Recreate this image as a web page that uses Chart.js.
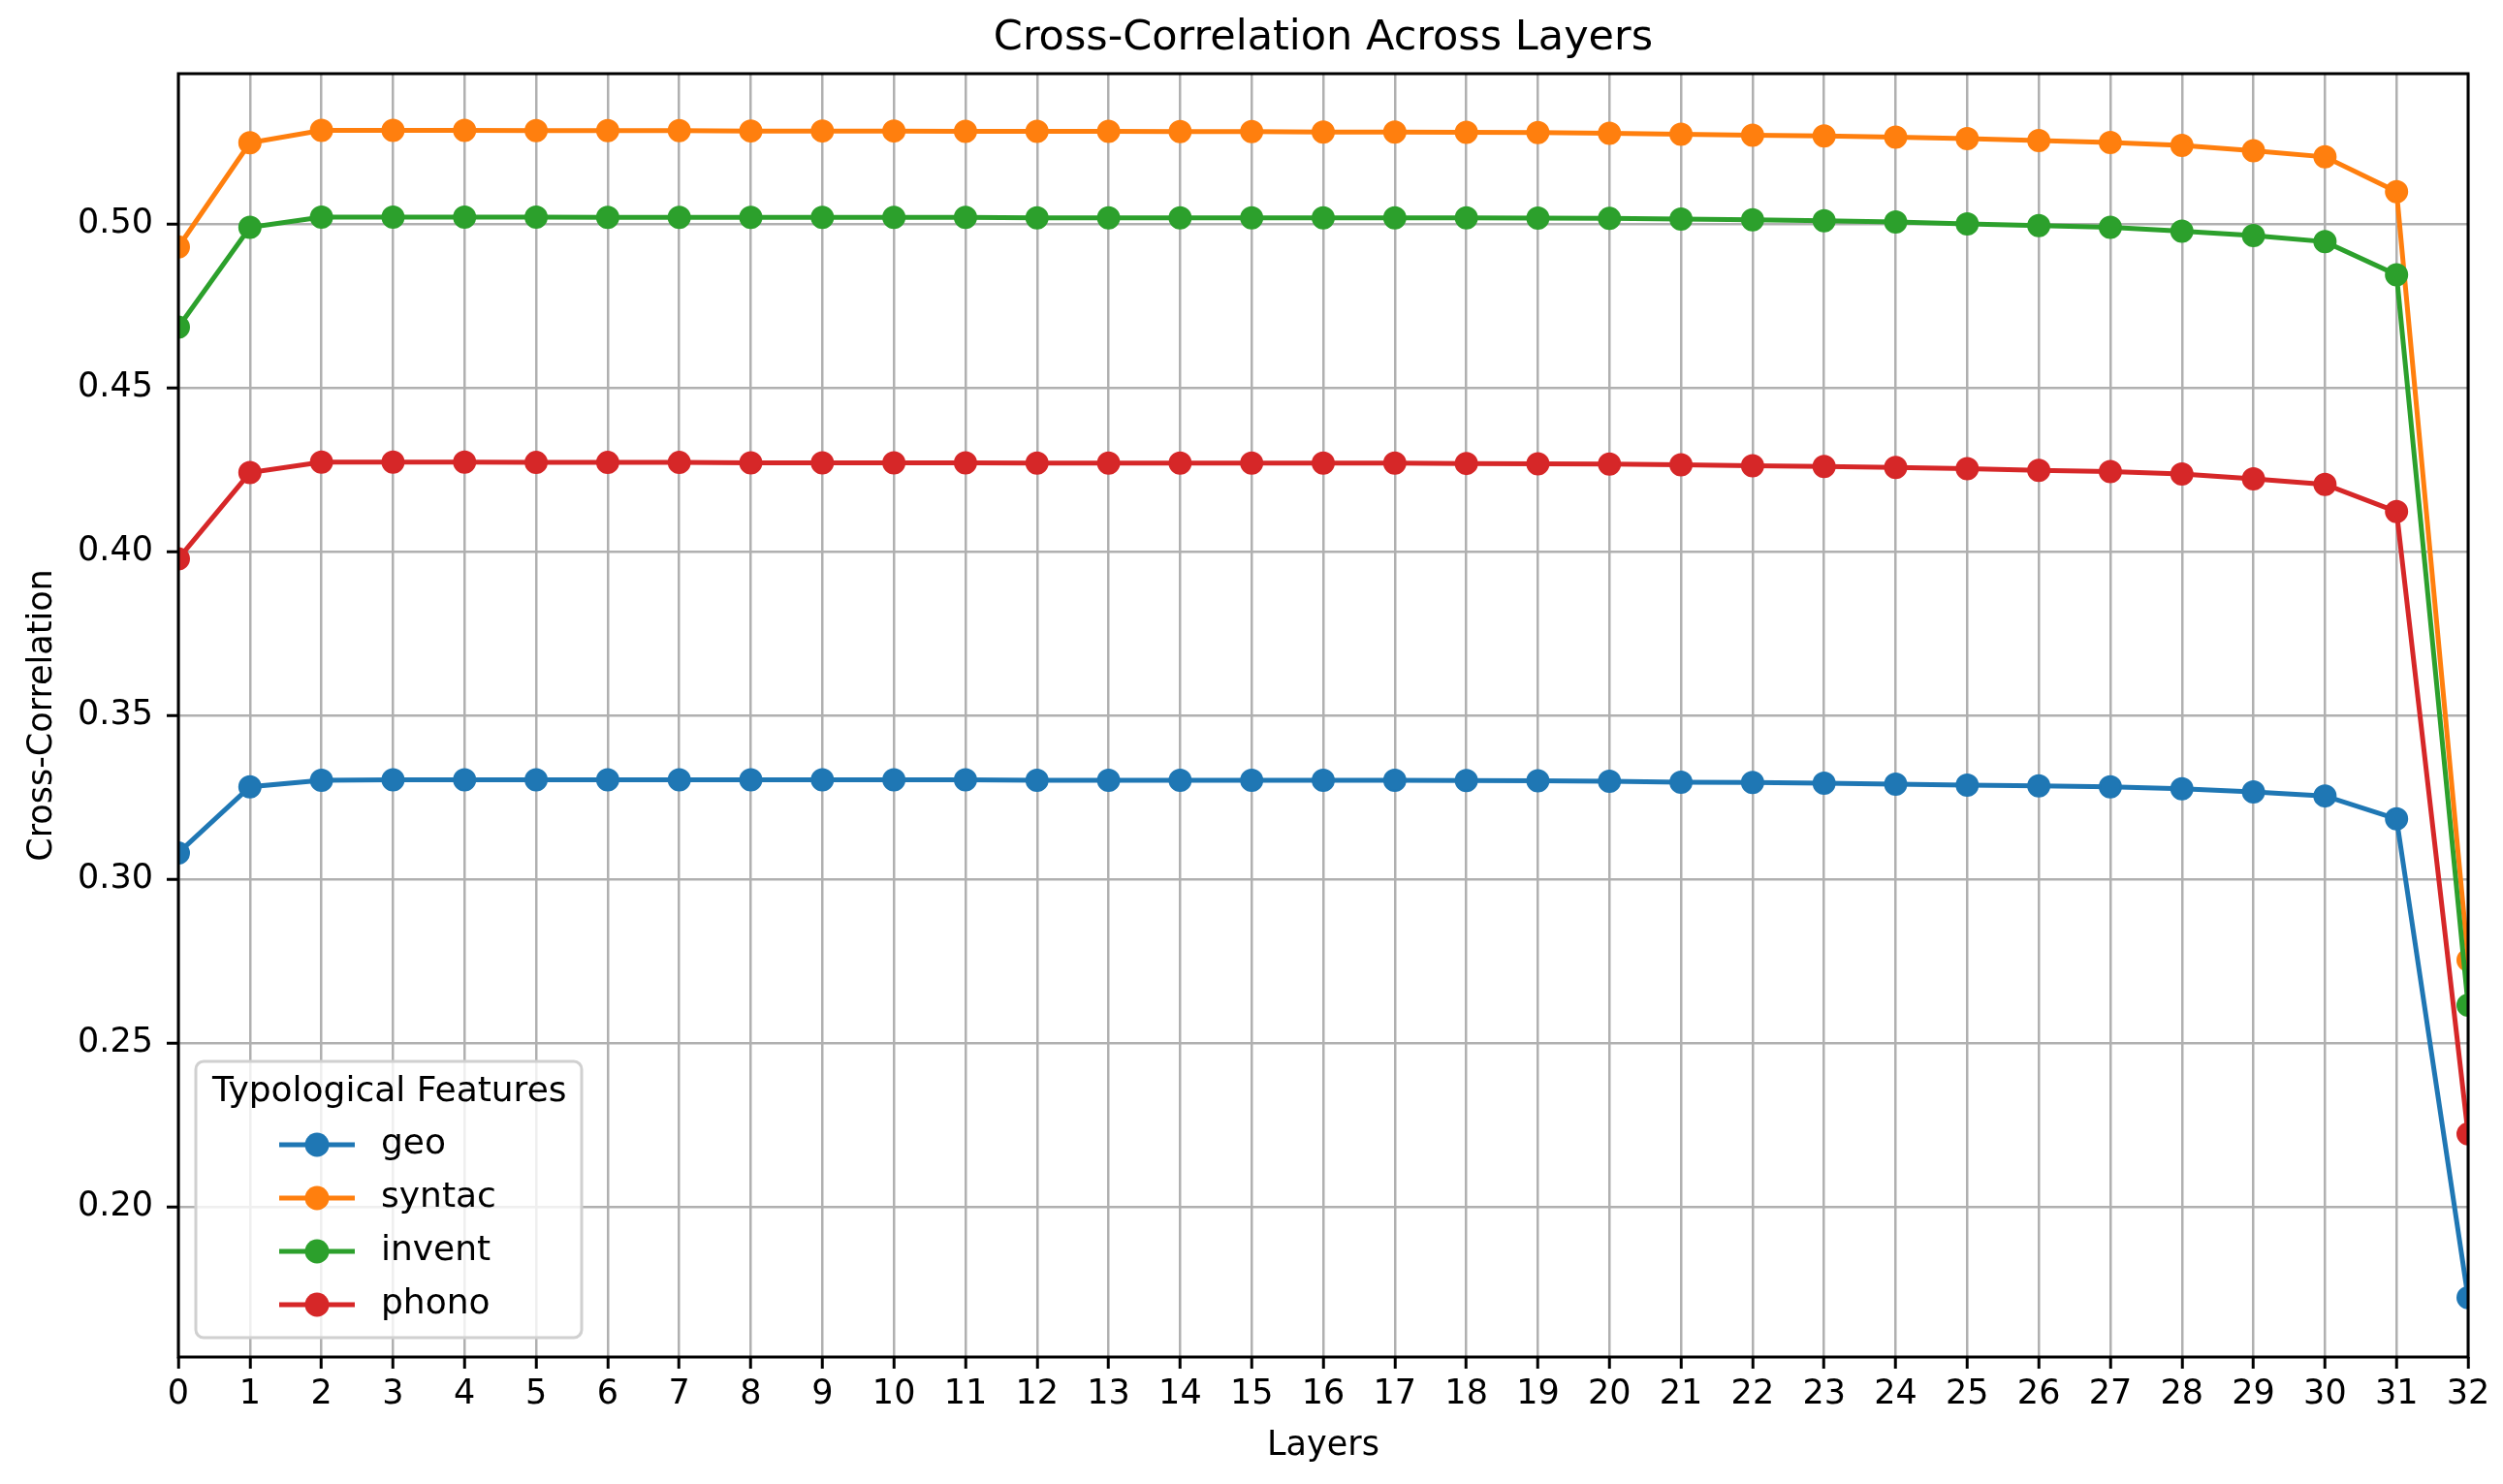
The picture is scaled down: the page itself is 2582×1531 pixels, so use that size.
<!DOCTYPE html>
<html>
<head>
<meta charset="utf-8">
<script src="https://cdn.jsdelivr.net/npm/chart.js@4.4.1/dist/chart.umd.min.js"></script>
<style>
  html, body { margin: 0; padding: 0; background: #fff; }
  #wrap { width: 2582px; height: 1531px; }
</style>
</head>
<body>
<div id="wrap"><canvas id="chart" width="2582" height="1531"></canvas></div>
<script>
  const layers = [0, 1, 2, 3, 4, 5, 6, 7, 8, 9, 10, 11, 12, 13, 14, 15, 16,
                  17, 18, 19, 20, 21, 22, 23, 24, 25, 26, 27, 28, 29, 30, 31, 32];
  const yTicks = [0.20, 0.25, 0.30, 0.35, 0.40, 0.45, 0.50];

  const geo = [0.3080, 0.3282, 0.3302, 0.3303, 0.3303, 0.3303, 0.3303, 0.3303, 0.3303,
               0.3303, 0.3303, 0.3303, 0.3302, 0.3302, 0.3302, 0.3302, 0.3302, 0.3302,
               0.3301, 0.3300, 0.3299, 0.3296, 0.3295, 0.3293, 0.3290, 0.3287, 0.3285,
               0.3282, 0.3276, 0.3266, 0.3254, 0.3184, 0.1722];
  const syntac = [0.4930, 0.5248, 0.5286, 0.5286, 0.5286, 0.5285, 0.5285, 0.5285, 0.5284,
                  0.5284, 0.5284, 0.5283, 0.5283, 0.5283, 0.5282, 0.5282, 0.5281, 0.5281,
                  0.5280, 0.5279, 0.5277, 0.5274, 0.5271, 0.5269, 0.5265, 0.5261, 0.5255,
                  0.5249, 0.5240, 0.5224, 0.5205, 0.5099, 0.2753];
  const invent = [0.4685, 0.4990, 0.5021, 0.5021, 0.5021, 0.5021, 0.5020, 0.5020, 0.5020,
                  0.5020, 0.5020, 0.5020, 0.5019, 0.5019, 0.5019, 0.5019, 0.5019, 0.5019,
                  0.5019, 0.5018, 0.5017, 0.5015, 0.5013, 0.5010, 0.5006, 0.5000, 0.4995,
                  0.4990, 0.4978, 0.4965, 0.4946, 0.4845, 0.2615];
  const phono = [0.3978, 0.4241, 0.4273, 0.4273, 0.4273, 0.4272, 0.4272, 0.4272, 0.4271,
                 0.4271, 0.4271, 0.4271, 0.4270, 0.4270, 0.4270, 0.4270, 0.4270, 0.4270,
                 0.4269, 0.4268, 0.4267, 0.4265, 0.4262, 0.4260, 0.4257, 0.4253, 0.4248,
                 0.4244, 0.4237, 0.4222, 0.4205, 0.4122, 0.2222];

  const seriesNames = ['geo', 'syntac', 'invent', 'phono'];
  const seriesValues = [geo, syntac, invent, phono];
  const seriesColors = ['#1f77b4', '#ff7f0e', '#2ca02c', '#d62728'];

  const FONT = 'DejaVu Sans';

  // box around the plot, like matplotlib spines
  const frame = {
    id: 'frame',
    afterDatasetsDraw(chart) {
      const { ctx, chartArea: a } = chart;
      ctx.save();
      ctx.strokeStyle = '#000';
      ctx.lineWidth = 3;
      ctx.strokeRect(a.left, a.top, a.right - a.left, a.bottom - a.top);
      ctx.restore();
    }
  };

  // legend in the lower left corner of the plot
  const legendBox = {
    id: 'legendBox',
    afterDraw(chart) {
      const { ctx, chartArea: a } = chart;
      const w = 398, h = 285;
      const left = a.left + 18, top = a.bottom - 20 - h;
      ctx.save();
      ctx.beginPath();
      ctx.roundRect(left, top, w, h, 8);
      ctx.fillStyle = 'rgba(255,255,255,0.8)';
      ctx.fill();
      ctx.strokeStyle = '#d0d0d0';
      ctx.lineWidth = 3;
      ctx.stroke();

      ctx.fillStyle = '#000';
      ctx.textBaseline = 'middle';
      ctx.textAlign = 'left';
      ctx.font = `36px "${FONT}"`;
      ctx.fillText('Typological Features', left + 17, top + 32);

      chart.data.datasets.forEach((ds, i) => {
        const y = top + 86 + i * 55;
        ctx.strokeStyle = ds.borderColor;
        ctx.lineWidth = 5;
        ctx.beginPath();
        ctx.moveTo(left + 86, y);
        ctx.lineTo(left + 164, y);
        ctx.stroke();
        ctx.fillStyle = ds.borderColor;
        ctx.beginPath();
        ctx.arc(left + 125, y, 12.5, 0, Math.PI * 2);
        ctx.fill();
        ctx.fillStyle = '#000';
        ctx.fillText(ds.label, left + 191, y);
      });
      ctx.restore();
    }
  };

  const datasets = seriesNames.map((name, i) => ({
    label: name,
    data: layers.map((x, j) => ({ x: x, y: seriesValues[i][j] })),
    borderColor: seriesColors[i],
    backgroundColor: seriesColors[i],
    pointBackgroundColor: seriesColors[i],
    pointBorderColor: seriesColors[i],
    borderWidth: 5,
    pointRadius: 11,
    pointBorderWidth: 2,
    tension: 0,
    clip: 0,
    order: seriesNames.length - i
  }));

  new Chart(document.getElementById('chart'), {
    type: 'line',
    data: { datasets },
    plugins: [frame, legendBox],
    options: {
      responsive: false,
      animation: false,
      devicePixelRatio: 1,
      layout: { padding: { top: 0, right: 36, bottom: 0, left: 0 } },
      plugins: {
        legend: { display: false },
        tooltip: { enabled: false },
        title: {
          display: true,
          fullSize: false,
          text: 'Cross-Correlation Across Layers',
          color: '#000',
          font: { family: FONT, size: 43, weight: 'normal', lineHeight: 1 },
          padding: { top: 18, bottom: 15 }
        }
      },
      scales: {
        x: {
          type: 'linear',
          min: 0,
          max: 32,
          afterBuildTicks: axis => { axis.ticks = layers.map(v => ({ value: v })); },
          afterFit: axis => { axis.height = 131; },
          ticks: {
            color: '#000',
            font: { family: FONT, size: 35 },
            padding: 6,
            autoSkip: false,
            maxRotation: 0,
            callback: v => String(v)
          },
          grid: { color: '#b0b0b0', lineWidth: 2.5, tickColor: '#000', tickWidth: 3, tickLength: 12 },
          border: { display: false },
          title: {
            display: true,
            text: 'Layers',
            color: '#000',
            font: { family: FONT, size: 35 },
            padding: { top: 0, bottom: 18 }
          }
        },
        y: {
          type: 'linear',
          min: 0.1541,
          max: 0.5459,
          afterBuildTicks: axis => { axis.ticks = yTicks.map(v => ({ value: v })); },
          afterFit: axis => { axis.width = 184; },
          ticks: {
            color: '#000',
            font: { family: FONT, size: 35 },
            padding: 14,
            callback: v => Number(v).toFixed(2)
          },
          grid: { color: '#b0b0b0', lineWidth: 2.5, tickColor: '#000', tickWidth: 3, tickLength: 12 },
          border: { display: false },
          title: {
            display: true,
            text: 'Cross-Correlation',
            color: '#000',
            font: { family: FONT, size: 35 },
            padding: { top: 23, bottom: 0 }
          }
        }
      }
    }
  });
</script>
</body>
</html>
